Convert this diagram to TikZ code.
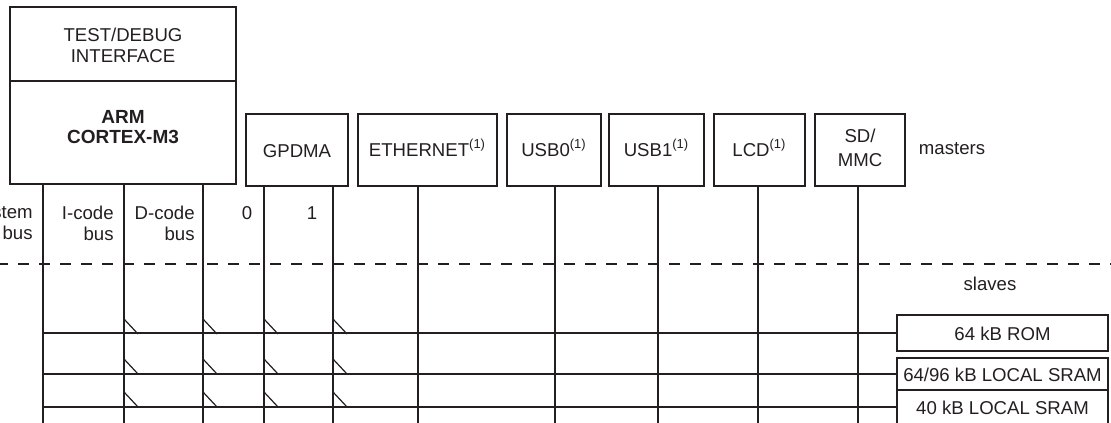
\documentclass[tikz,border=0pt]{standalone}
\usepackage{fontspec}
\setmainfont{Liberation Sans}
\definecolor{ink}{RGB}{35,31,32}
\begin{document}
\begin{tikzpicture}[x=0.5pt,y=-0.5pt,
  box/.style={draw=ink, line width=1.15pt, inner sep=0pt},
  bus/.style={draw=ink, line width=0.6pt},
  tickline/.style={draw=ink, line width=0.6pt},
  sep/.style={draw=ink, line width=1.2pt, dash pattern=on 5.5pt off 5pt},
  lbl/.style={text=ink, font=\fontsize{9.3}{10.5}\selectfont, inner sep=0pt, align=center},
  blbl/.style={text=ink, font=\fontsize{9.5}{9.8}\selectfont\bfseries, inner sep=0pt, align=center},
]
\useasboundingbox (0,0) rectangle (1111,422);
\clip (0,0) rectangle (1111,422);

% masters
\node[box, minimum width=113pt, minimum height=37pt] (dbg) at (123,44) {};
\node[box, minimum width=113pt, minimum height=51.5pt] (arm) at (123,132.5) {};
\node[lbl] (dbgtxt) at (123,45) {TEST/DEBUG\\INTERFACE};
\node[blbl] (armtxt) at (123,127) {ARM\\CORTEX-M3};

\node[box, minimum width=51pt, minimum height=36pt] (gpdma) at (297,150) {};
\node[lbl] (gpdmatxt) at (297,151) {GPDMA};
\node[box, minimum width=69.5pt, minimum height=36pt] (eth) at (427.5,150) {};
\node[lbl] (ethtxt) at (427.5,148) {ETHERNET\textsuperscript{(1)}};
\node[box, minimum width=47pt, minimum height=36pt] (usbz) at (554,150) {};
\node[lbl] (usbztxt) at (554,148) {USB0\textsuperscript{(1)}};
\node[box, minimum width=47.5pt, minimum height=36pt] (usbo) at (656.5,150) {};
\node[lbl] (usbotxt) at (656.5,148) {USB1\textsuperscript{(1)}};
\node[box, minimum width=45.5pt, minimum height=36pt] (lcd) at (759.5,150) {};
\node[lbl] (lcdtxt) at (759.5,148) {LCD\textsuperscript{(1)}};
\node[box, minimum width=45pt, minimum height=36pt] (sd) at (860,150) {};
\node[lbl, font=\fontsize{9.3}{12}\selectfont] (sdtxt) at (860,148) {SD/\\MMC};
\node[lbl] (masters) at (952,149) {masters};

% slaves
\node[box, minimum width=105.5pt, minimum height=18pt] (rom) at (1002.5,333) {};
\node[lbl] (romtxt) at (1002.5,334) {64 kB ROM};
\node[box, minimum width=105.5pt, minimum height=16pt] (srama) at (1002.5,374) {};
\node[lbl] (sramatxt) at (1002.5,375) {64/96 kB LOCAL SRAM};
\node[box, minimum width=105.5pt, minimum height=17pt] (sramb) at (1002.5,407) {};
\node[lbl] (srambtxt) at (1002.5,408) {40 kB LOCAL SRAM};
\node[lbl] (slaves) at (990,284) {slaves};

% separator
\coordinate (sepl) at (-3,264);
\coordinate (sepr) at (1115,264);
\draw[sep] (sepl) -- (sepr);

% vertical buses
\foreach \x/\n in {43/sys,124/ic,203/dc} {
  \coordinate (\n) at (\x,430);
  \draw[bus] (\x,0 |- arm.south) -- (\n);
}
\foreach \x/\n in {264/dz,333/do} {
  \coordinate (\n) at (\x,430);
  \draw[bus] (\x,0 |- gpdma.south) -- (\n);
}
\coordinate (ethb) at (418,430);
\draw[bus] (418,0 |- eth.south) -- (ethb);
\coordinate (usbzb) at (555,430);
\draw[bus] (555,0 |- usbz.south) -- (usbzb);
\coordinate (usbob) at (658,430);
\draw[bus] (658,0 |- usbo.south) -- (usbob);
\coordinate (lcdb) at (758,430);
\draw[bus] (758,0 |- lcd.south) -- (lcdb);
\coordinate (sdb) at (858,430);
\draw[bus] (858,0 |- sd.south) -- (sdb);

% horizontal slave lines
\foreach \s in {rom,srama,sramb} {
  \draw[bus] (43,0 |- \s.west) -- (\s.west);
}
% ticks
\foreach \y in {334,374,407} {
  \foreach \x in {124,203,264,333} {
    \draw[tickline] ({\x},{\y-15}) -- ({\x+14},{\y});
  }
}

% bus labels
\node[lbl, align=right, anchor=east] (syslbl) at (33,223) {System\\bus};
\node[lbl, align=right, anchor=east] (iclbl) at (114,223) {I-code\\bus};
\node[lbl, align=right, anchor=east] (dclbl) at (195,223) {D-code\\bus};
\node[lbl] (zlbl) at (247,213) {0};
\node[lbl] (olbl) at (312,213) {1};
\end{tikzpicture}
\end{document}
